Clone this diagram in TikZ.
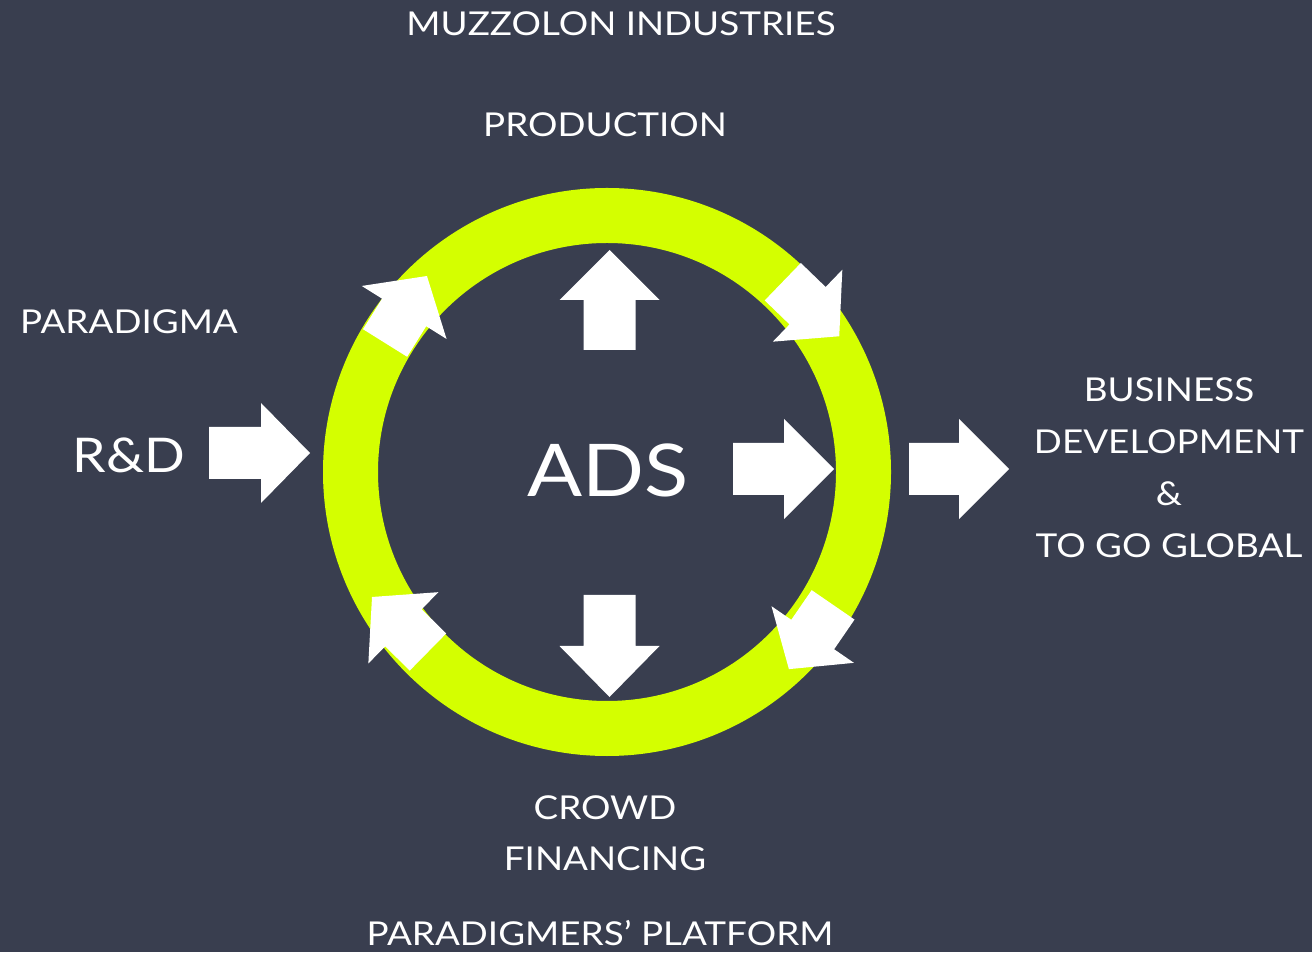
\documentclass[tikz,border=0pt]{standalone}
\usepackage{fontspec}
\setmainfont{Lato}[FakeStretch=1.12]
\definecolor{bg}{HTML}{393E4F}
\definecolor{lime}{HTML}{D4FF00}
\tikzset{
  lbl/.style={text=white, font=\fontsize{33}{40}\selectfont, align=center, inner sep=0pt},
  blk/.style={fill=white, draw=none},
}
% \barrow{cx}{cy}{angle}{length}{headlength}
\newcommand{\barrow}[5]{%
  \begin{scope}[shift={(#1,#2)}, rotate=#3]
    \fill[blk] (-#4/2,-26) -- (#4/2-#5,-26) -- (#4/2-#5,-50) -- (#4/2,0)
      -- (#4/2-#5,50) -- (#4/2-#5,26) -- (-#4/2,26) -- cycle;
  \end{scope}}
\begin{document}
\begin{tikzpicture}[x=1bp,y=1bp]
\fill[bg] (0,0) rectangle (1312,952);
\useasboundingbox (0,0) rectangle (1312,952);
% ring
\coordinate (c) at (607,480);
\draw[lime, line width=55bp] (c) circle[radius=256.5];
% arrows
\barrow{609.5}{652}{90}{100}{50}
\barrow{609.5}{306}{-90}{102}{51}
\barrow{259.5}{499}{0}{101}{49}
\barrow{783.5}{483}{0}{101}{50}
\barrow{959}{483}{0}{100}{50}
\barrow{406}{642.5}{58}{79}{43}
\barrow{811}{643}{-44}{78.5}{44}
\barrow{811}{315}{-124.5}{78}{42}
\barrow{400}{327.5}{135.5}{78.5}{44}
% texts
\node[lbl] (muz) at (621,928) {MUZZOLON INDUSTRIES};
\node[lbl] (prod) at (605,827) {PRODUCTION};
\node[lbl] (para) at (129,630) {PARADIGMA};
\node[lbl, font=\fontsize{48}{58}\selectfont] (rd) at (129,497) {R\&D};
\node[lbl, font=\fontsize{73}{88}\selectfont] (ads) at (608,482) {ADS};
\node[lbl] (b1) at (1169,562) {BUSINESS};
\node[lbl] (b2) at (1169,510) {DEVELOPMENT};
\node[lbl] (b3) at (1169,458) {\&};
\node[lbl] (b4) at (1169,406) {TO GO GLOBAL};
\node[lbl] (cr1) at (605,144) {CROWD};
\node[lbl] (cr2) at (605,93) {FINANCING};
\node[lbl] (plat) at (600,19) {PARADIGMERS’ PLATFORM};
\end{tikzpicture}
\end{document}
